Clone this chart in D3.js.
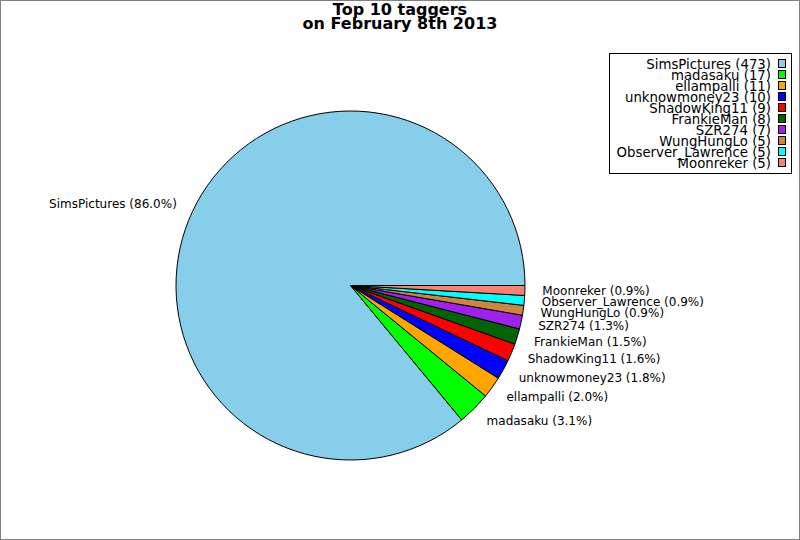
<!DOCTYPE html>
<html>
<head>
<meta charset="utf-8">
<script src="https://cdn.jsdelivr.net/npm/d3@7"></script>
<style>
  body { margin: 0; background: #fff; }
  text { font-family: "DejaVu Sans", sans-serif; }
</style>
</head>
<body>
<svg width="800" height="540"></svg>
<script>
var names = ["SimsPictures", "madasaku", "ellampalli", "unknowmoney23", "ShadowKing11",
             "FrankieMan", "SZR274", "WungHungLo", "Observer_Lawrence", "Moonreker"];
var counts = [473, 17, 11, 10, 9, 8, 7, 5, 5, 5];
var colors = ["#87ceeb", "#00ff00", "#ffa500", "#0000ff", "#ff0000",
              "#006400", "#a020f0", "#cd853f", "#00ffff", "#fa8072"];
var titleLines = ["Top 10 taggers", "on February 8th 2013"];

var width = 800, height = 540;
var cx = 350.5, cy = 285.5, radius = 174.5;

var svg = d3.select("svg");

// figure frame
svg.append("rect")
   .attr("x", 0.5).attr("y", 0.5)
   .attr("width", width - 1).attr("height", height - 1)
   .attr("fill", "#fff")
   .attr("stroke", "#808080");

var total = d3.sum(counts);
var data = names.map(function(n, i) {
  return {name: n, value: counts[i], color: colors[i]};
});

// start at 3 o'clock, go counterclockwise
var pie = d3.pie()
            .sort(null)
            .value(function(d) { return d.value; })
            .startAngle(Math.PI / 2)
            .endAngle(Math.PI / 2 - 2 * Math.PI);

var arc = d3.arc().innerRadius(0).outerRadius(radius);

var g = svg.append("g")
           .attr("transform", "translate(" + cx + "," + cy + ")");

var arcs = pie(data);

g.selectAll("path.slice")
 .data(arcs)
 .enter().append("path")
 .attr("class", "slice")
 .attr("d", arc)
 .attr("fill", function(d) { return d.data.color; })
 .attr("stroke", "#000")
 .attr("stroke-width", 1)
 .attr("stroke-linejoin", "round");

// labels at 1.1 radius
g.selectAll("text.lbl")
 .data(arcs)
 .enter().append("text")
 .attr("class", "lbl")
 .each(function(d) {
   var a = (d.startAngle + d.endAngle) / 2;
   var x = Math.sin(a) * radius * 1.1;
   var y = -Math.cos(a) * radius * 1.1;
   d3.select(this)
     .attr("x", x)
     .attr("y", y)
     .attr("text-anchor", x > 0 ? "start" : "end");
 })
 .attr("dy", "0.32em")
 .attr("font-size", 12)
 .attr("fill", "#000")
 .text(function(d) {
   return d.data.name + " (" + (d.data.value / total * 100).toFixed(1) + "%)";
 });

// title
svg.selectAll("text.title")
   .data(titleLines)
   .enter().append("text")
   .attr("class", "title")
   .attr("x", 400)
   .attr("y", function(d, i) { return 15 + i * 14.3; })
   .attr("text-anchor", "middle")
   .attr("font-size", 16)
   .attr("font-weight", "bold")
   .text(function(d) { return d; });

// legend
var legend = svg.append("g");
legend.append("rect")
      .attr("x", 609.5).attr("y", 53.5)
      .attr("width", 182).attr("height", 120)
      .attr("fill", "#fff")
      .attr("stroke", "#000");

var rowY = d3.scaleLinear().domain([0, names.length - 1]).range([64, 163]);

var rows = legend.selectAll("g.row")
                 .data(data)
                 .enter().append("g")
                 .attr("class", "row")
                 .attr("transform", function(d, i) { return "translate(0," + rowY(i) + ")"; });

rows.append("text")
    .attr("x", 771)
    .attr("dy", "0.36em")
    .attr("text-anchor", "end")
    .attr("font-size", 13.3)
    .text(function(d) { return d.name + " (" + d.value + ")"; });

rows.append("rect")
    .attr("x", 778.5).attr("y", -4.5)
    .attr("width", 7).attr("height", 8)
    .attr("fill", function(d) { return d.color; })
    .attr("stroke", "#000");
</script>
</body>
</html>
